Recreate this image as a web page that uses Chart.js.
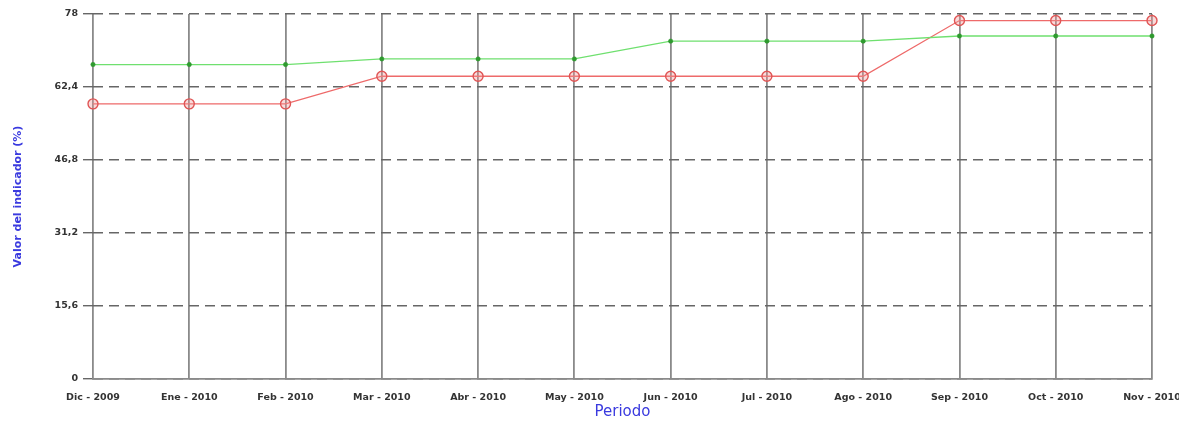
<!DOCTYPE html>
<html><head><meta charset="utf-8">
<script src="https://cdn.jsdelivr.net/npm/chart.js@4"></script>
<style>html,body{margin:0;padding:0;background:#fff;}#wrap{width:1179px;height:421px;}</style>
</head><body><div id="wrap"><canvas id="c" width="1179" height="421"></canvas></div>
<script>
const categories = ['Dic - 2009','Ene - 2010','Feb - 2010','Mar - 2010','Abr - 2010','May - 2010','Jun - 2010','Jul - 2010','Ago - 2010','Sep - 2010','Oct - 2010','Nov - 2010'];
const greenValues = [67.2,67.2,67.2,68.4,68.4,68.4,72.2,72.2,72.2,73.3,73.3,73.3];
const redValues = [58.8,58.8,58.8,64.7,64.7,64.7,64.7,64.7,64.7,76.6,76.6,76.6];
const yTickLabels = ['0','15,6','31,2','46,8','62,4','78'];

const tickFont = {family: 'DejaVu Sans', size: 9.5, weight: 'bold'};

new Chart(document.getElementById('c'), {
  type: 'line',
  data: {
    labels: categories,
    datasets: [
      {data: greenValues, borderColor: '#6fe06f', borderWidth: 1.3, pointRadius: 2.2, pointBackgroundColor: '#2e9a2e', pointBorderColor: '#2e9a2e', pointBorderWidth: 0.5, tension: 0},
      {data: redValues, borderColor: '#ee6a6a', borderWidth: 1.3, pointRadius: 5, pointBackgroundColor: 'rgba(240,150,150,0.35)', pointBorderColor: '#e05555', pointBorderWidth: 1.4, tension: 0}
    ]
  },
  options: {
    responsive: false, animation: false,
    layout: {padding: {top: 14, right: 27, left: 0, bottom: 0}},
    plugins: {legend: {display: false}, tooltip: {enabled: false}},
    scales: {
      x: {
        offset: false,
        afterFit: s => { s.height = 42; s.paddingLeft = 0; s.paddingRight = 0; },
        grid: {color: '#8a8a8a', lineWidth: 1.8, drawTicks: false},
        border: {color: '#8a8a8a', width: 1.8},
        ticks: {autoSkip: false, maxRotation: 0, padding: 13, color: '#333', font: tickFont},
        title: {display: true, text: 'Periodo', color: '#3a3adf', font: {family: 'DejaVu Sans', size: 15}, padding: {top: 0, bottom: 0}}
      },
      y: {
        min: 0, max: 78,
        afterFit: s => { s.width = 93; },
        afterBuildTicks: s => { s.ticks = yTickLabels.map((t, i) => ({value: i * 15.6})); },
        grid: {color: '#666', lineWidth: 1.4, tickLength: 10},
        border: {display: false, dash: [10, 6]},
        ticks: {padding: 5, color: '#333', font: tickFont,
          callback: (v, i) => yTickLabels[i]},
        title: {display: true, text: 'Valor del indicador (%)', color: '#3a3adf', font: {family: 'DejaVu Sans', size: 11, weight: 'bold'}, padding: {top: 12, bottom: 0}}
      }
    }
  }
});
</script></body></html>
